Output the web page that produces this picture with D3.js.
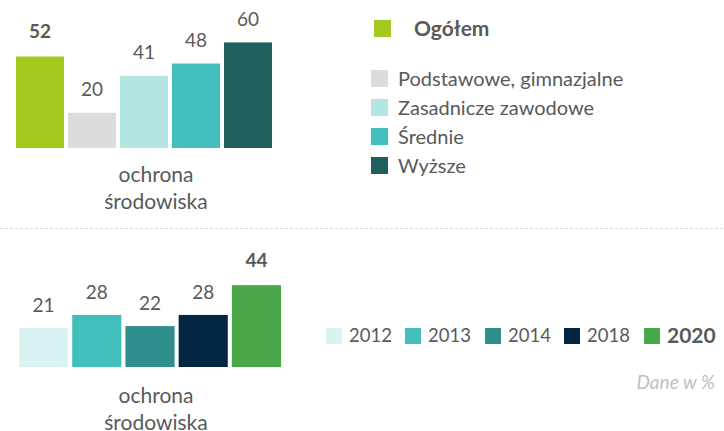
<!DOCTYPE html>
<html>
<head>
<meta charset="utf-8">
<script src="https://cdn.jsdelivr.net/npm/d3@7"></script>
<style>
  body { margin: 0; background: #fff; }
  svg { display: block; }
</style>
</head>
<body>
<svg id="chart" width="724" height="431"></svg>
<script>
// data
const topGroups = ["Ogółem", "Podstawowe, gimnazjalne", "Zasadnicze zawodowe", "Średnie", "Wyższe"];
const topValues = [52, 20, 41, 48, 60];
const topColors = ["#a3c91f", "#dcdcdc", "#b3e5e3", "#42bebc", "#215e5e"];

const years = ["2012", "2013", "2014", "2018", "2020"];
const yearValues = [21, 28, 22, 28, 44];
const yearColors = ["#d9f2f2", "#42bebc", "#2f8f8c", "#032643", "#4aa84a"];

const categoryLines = ["ochrona", "środowiska"];

const textColor = "#595959";
const font = "Lato, 'Open Sans', sans-serif";

const svg = d3.select("#chart").attr("font-family", font);

// divider
svg.append("line")
    .attr("x1", 0).attr("x2", 724)
    .attr("y1", 228.5).attr("y2", 228.5)
    .attr("stroke", "#d9d9d9")
    .attr("stroke-dasharray", "3,2");

function barBlock(cats, vals, colors, xRange, bottom, pxPerUnit, boldIdx, labelY) {
    const x = d3.scaleBand().domain(cats).range(xRange).paddingInner(0.077).paddingOuter(0);
    const y = d3.scaleLinear().domain([0, d3.max(vals)]).range([bottom, bottom - d3.max(vals) * pxPerUnit]);
    const g = svg.append("g");
    g.selectAll("rect").data(cats).join("rect")
        .attr("x", d => x(d))
        .attr("y", (d, i) => y(vals[i]))
        .attr("width", x.bandwidth())
        .attr("height", (d, i) => y(0) - y(vals[i]))
        .attr("fill", (d, i) => colors[i]);
    g.selectAll("text.val").data(cats).join("text")
        .attr("class", "val")
        .attr("x", d => x(d) + x.bandwidth() / 2)
        .attr("y", (d, i) => y(vals[i]) - (i === boldIdx ? 25 : 23))
        .attr("dy", "0.35em")
        .attr("text-anchor", "middle")
        .attr("fill", textColor)
        .attr("font-size", 19)
        .attr("font-weight", (d, i) => i === boldIdx ? "bold" : "normal")
        .text((d, i) => vals[i]);
    g.selectAll("text.cat").data(categoryLines).join("text")
        .attr("class", "cat")
        .attr("x", 156)
        .attr("y", (d, i) => labelY + i * 27)
        .attr("dy", "0.35em")
        .attr("text-anchor", "middle")
        .attr("fill", textColor)
        .attr("font-size", 21)
        .text(d => d);
}

barBlock(topGroups, topValues, topColors, [16, 272], 148, 1.76, 0, 175);
barBlock(years, yearValues, yearColors, [19, 281], 367, 1.86, 4, 396);

// top legend
const legTop = svg.append("g");
legTop.append("rect").attr("x", 374).attr("y", 20).attr("width", 17).attr("height", 17).attr("fill", topColors[0]);
legTop.append("text").attr("x", 414).attr("y", 29).attr("dy", "0.35em")
    .attr("font-size", 21).attr("font-weight", "bold").attr("fill", textColor).text(topGroups[0]);
const legItems = legTop.selectAll("g.item").data(topGroups.slice(1)).join("g")
    .attr("class", "item")
    .attr("transform", (d, i) => `translate(371,${70 + i * 29})`);
legItems.append("rect").attr("width", 17).attr("height", 17).attr("fill", (d, i) => topColors[i + 1]);
legItems.append("text").attr("x", 27).attr("y", 8.5).attr("dy", "0.35em")
    .attr("font-size", 20).attr("fill", textColor).text(d => d);

// bottom legend
const legX = [326, 405, 485, 564, 644];
const legBot = svg.append("g").selectAll("g").data(years).join("g")
    .attr("transform", (d, i) => `translate(${legX[i]},328)`);
legBot.append("rect").attr("width", 16).attr("height", 16).attr("fill", (d, i) => yearColors[i]);
legBot.append("text").attr("x", 23).attr("y", 8).attr("dy", "0.35em")
    .attr("font-size", (d, i) => i === 4 ? 21 : 18.5)
    .attr("font-weight", (d, i) => i === 4 ? "bold" : "normal")
    .attr("fill", textColor).text(d => d);

svg.append("text").attr("x", 715).attr("y", 382).attr("dy", "0.35em")
    .attr("text-anchor", "end").attr("font-size", 19).attr("font-style", "italic")
    .attr("fill", "#bfbfbf").text("Dane w %");
</script>
</body>
</html>
